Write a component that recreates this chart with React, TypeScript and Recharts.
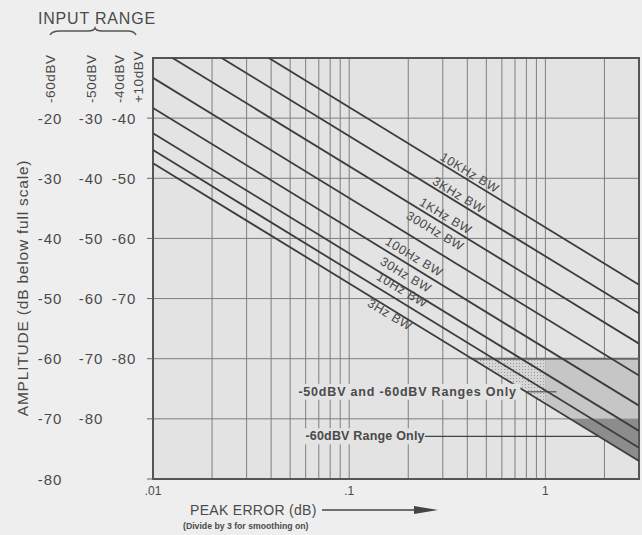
import {
  ComposedChart,
  Line,
  Area,
  XAxis,
  YAxis,
  CartesianGrid,
  ReferenceArea,
  ReferenceLine,
  ReferenceDot,
} from "recharts";

const FONT = '"Liberation Sans", Arial, sans-serif';
const INK = "#4a4a4a";
const GRID = "#7e7e7e";

// peak error axis (dB), log scale
const ERR_MIN = 0.01;
const ERR_MAX = 3;
const X_TICKS = [
  0.01, 0.02, 0.03, 0.04, 0.05, 0.06, 0.07, 0.08, 0.09,
  0.1, 0.2, 0.3, 0.4, 0.5, 0.6, 0.7, 0.8, 0.9,
  1, 2, 3,
];
const X_LABELS: Record<number, string> = { 0.01: ".01", 0.1: ".1", 1: "1" };

// amplitude axis, one column of labels per input range
const AMP_TOP = -10;
const AMP_BOTTOM = -80;
const Y_TICKS = [-20, -30, -40, -50, -60, -70, -80];
const RANGE_60 = ["-20", "-30", "-40", "-50", "-60", "-70", "-80"];
const RANGE_50 = ["-30", "-40", "-50", "-60", "-70", "-80", ""];
const RANGE_40 = ["-40", "-50", "-60", "-70", "-80", "", ""];
const RANGE_HEADS = ["-60dBV", "-50dBV", "-40dBV", "+10dBV"];

// bandwidth curves: amplitude at the left and right ends of the error axis
const BW_NAMES = ["10KHz BW", "3KHz BW", "1KHz BW", "300Hz BW", "100Hz BW", "30Hz BW", "10Hz BW", "3Hz BW"];
const AMP_AT_MIN = [1.8, -3.0, -8.0, -13.3, -18.3, -22.5, -25.3, -27.5];
const AMP_AT_MAX = [-47.7, -52.5, -57.5, -62.8, -67.8, -72.0, -74.8, -77.0];
const LABEL_ERR = [0.411, 0.361, 0.31, 0.274, 0.214, 0.194, 0.186, 0.161];
const LABEL_AMP = [-29.1, -32.8, -36.3, -38.8, -43.1, -46.1, -48.6, -52.7];

// shaded bands under the 3Hz curve
const STIPPLE_ERR = [0.42, 1];
const STIPPLE_LOW = [-60, -67.4];
const LIGHT_ERR = [1, 1.35, 3];
const LIGHT_LOW = [-67.4, -70, -70];
const DARK_ERR = [1.35, 3];
const DARK_LOW = [-70, -77];
const LIGHT_TOP = -60;
const DARK_TOP = -70;

const NOTE_50 = "-50dBV and -60dBV Ranges Only";
const NOTE_60 = "-60dBV Range Only";

const curves = BW_NAMES.map((name, i) => ({
  name,
  data: [
    { err: ERR_MIN, amp: AMP_AT_MIN[i] },
    { err: ERR_MAX, amp: AMP_AT_MAX[i] },
  ],
}));

const band = (errs: number[], lows: number[], top: number) =>
  errs.map((err, i) => ({ err, range: [lows[i], top] }));

const YTick = (props: any) => {
  const i = Y_TICKS.indexOf(props.payload.value);
  const cols: [number, string][] = [
    [50, RANGE_60[i]],
    [91, RANGE_50[i]],
    [124, RANGE_40[i]],
  ];
  return (
    <g>
      {cols.map(([x, t]) =>
        t ? (
          <text key={x} x={x} y={props.y} textAnchor="middle" dominantBaseline="central"
            fontSize={15} letterSpacing={1} fill={INK} fontFamily={FONT}>
            {t}
          </text>
        ) : null
      )}
    </g>
  );
};

const XTick = (props: any) => {
  const t = X_LABELS[props.payload.value];
  if (!t) return null;
  return (
    <text x={props.x} y={props.y + 8} textAnchor="middle" fontSize={12} fill={INK} fontFamily={FONT}>
      {t}
    </text>
  );
};

const bwLabel = (text: string) => (p: any) => (
  <text x={p.cx} y={p.cy} transform={`rotate(31 ${p.cx} ${p.cy})`} textAnchor="middle"
    dominantBaseline="central" fontSize={12.5} fill={INK} fontFamily={FONT} letterSpacing={0.6}>
    {text}
  </text>
);

const note = (text: string, w: number, spacing: number) => (p: any) => (
  <g>
    <rect x={p.cx - 2} y={p.cy - 8} width={w} height={16} fill="#e3e3e3" />
    <text x={p.cx} y={p.cy} dominantBaseline="central" fontSize={12.5} fill={INK}
      fontFamily={FONT} fontWeight="bold" letterSpacing={spacing}>
      {text}
    </text>
  </g>
);

export default function App() {
  return (
    <div style={{ position: "absolute", left: 0, top: 0, width: 642, height: 535, background: "#eeeeee" }}>
      <ComposedChart width={642} height={535} margin={{ top: 58, right: 3, bottom: 0, left: 0 }}>
        <defs>
          <pattern id="stipple" width="3" height="3" patternUnits="userSpaceOnUse">
            <rect width="3" height="3" fill="#d6d6d6" />
            <rect width="1" height="1" fill="#9a9a9a" />
          </pattern>
        </defs>
        <CartesianGrid fill="#e3e3e3" stroke={GRID} strokeWidth={1} />
        <XAxis dataKey="err" type="number" scale="log" domain={[ERR_MIN, ERR_MAX]} allowDataOverflow
          ticks={X_TICKS} tick={<XTick />} tickLine={false} axisLine={false} height={56} interval={0} />
        <YAxis type="number" domain={[AMP_BOTTOM, AMP_TOP]} allowDataOverflow ticks={Y_TICKS}
          tick={<YTick />} tickSize={6} tickLine={{ stroke: "#666" }} axisLine={false} width={153} interval={0} />

        <Area data={band(STIPPLE_ERR, STIPPLE_LOW, LIGHT_TOP)} dataKey="range" type="linear"
          fill="url(#stipple)" fillOpacity={1} stroke="none" isAnimationActive={false} />
        <Area data={band(LIGHT_ERR, LIGHT_LOW, LIGHT_TOP)} dataKey="range" type="linear"
          fill="#c6c6c6" fillOpacity={1} stroke="none" isAnimationActive={false} />
        <Area data={band(DARK_ERR, DARK_LOW, DARK_TOP)} dataKey="range" type="linear"
          fill="#8c8c8c" fillOpacity={1} stroke="none" isAnimationActive={false} />

        <ReferenceLine segment={[{ x: 0.42, y: LIGHT_TOP }, { x: ERR_MAX, y: LIGHT_TOP }]}
          stroke="#666" strokeWidth={2} />
        <ReferenceLine segment={[{ x: 0.8, y: -65.5 }, { x: 1.14, y: -65.5 }]} stroke="#555" strokeWidth={1.2} />
        <ReferenceLine segment={[{ x: 0.243, y: -72.9 }, { x: 1.88, y: -72.9 }]} stroke="#444" strokeWidth={1.2} />

        {curves.map((c) => (
          <Line key={c.name} data={c.data} dataKey="amp" type="linear" stroke="#3c3c3c"
            strokeWidth={1.8} dot={false} isAnimationActive={false} />
        ))}

        {BW_NAMES.map((name, i) => (
          <ReferenceDot key={name} x={LABEL_ERR[i]} y={LABEL_AMP[i]} r={0} shape={bwLabel(name)} />
        ))}
        <ReferenceDot x={0.0551} y={-65.5} r={0} shape={note(NOTE_50, 224, 0.8)} />
        <ReferenceDot x={0.0598} y={-72.9} r={0} shape={note(NOTE_60, 120, 0.2)} />

        <ReferenceArea x1={ERR_MIN} x2={ERR_MAX} y1={AMP_BOTTOM} y2={AMP_TOP} fill="none"
          fillOpacity={0} stroke="#555" strokeWidth={2} />
      </ComposedChart>

      <svg width={642} height={535} style={{ position: "absolute", left: 0, top: 0, pointerEvents: "none" }}>
        <text x={38} y={24} fontSize={16} fill={INK} fontFamily={FONT} letterSpacing={0.8}>
          INPUT RANGE
        </text>
        <path d="M50,35 Q52,31 60,31 L88,31 Q94,31 95,28 Q96,31 102,31 L128,31 Q134,31 136,35"
          fill="none" stroke="#555" strokeWidth={1.5} />
        {RANGE_HEADS.map((t, i) => {
          const x = [50, 91, 119, 138][i];
          return (
            <text key={t} x={x} y={103} transform={`rotate(-90 ${x} 103)`} dominantBaseline="central"
              fontSize={13.5} letterSpacing={0.6} fill={INK} fontFamily={FONT}>
              {t}
            </text>
          );
        })}
        <text x={22} y={288} transform="rotate(-90 22 288)" textAnchor="middle" dominantBaseline="central"
          fontSize={15.5} letterSpacing={0.8} fill={INK} fontFamily={FONT}>
          AMPLITUDE (dB below full scale)
        </text>
        <text x={190} y={515} fontSize={14} letterSpacing={0.3} fill={INK} fontFamily={FONT}>
          PEAK ERROR (dB)
        </text>
        <line x1={322} y1={510} x2={420} y2={510} stroke="#444" strokeWidth={1.5} />
        <polygon points="414,506 438,510 414,514" fill="#444" />
        <text x={183} y={529} fontSize={8.7} fontWeight="bold" fill={INK} fontFamily={FONT}>
          (Divide by 3 for smoothing on)
        </text>
      </svg>
    </div>
  );
}
